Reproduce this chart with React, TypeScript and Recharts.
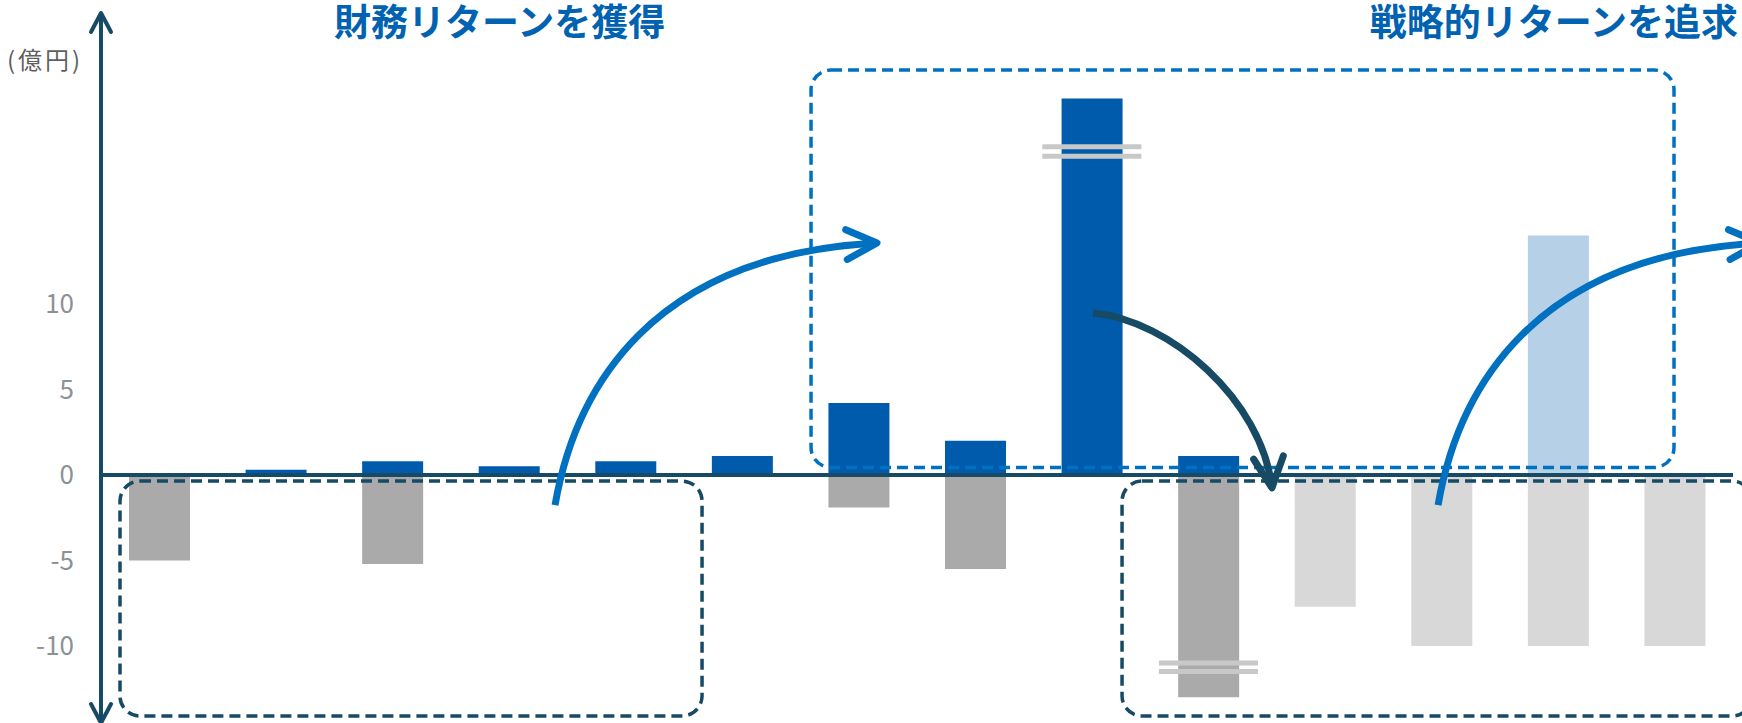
import React from "react";
import { BarChart, Bar, XAxis, YAxis, ReferenceLine, ReferenceArea, ReferenceDot } from "recharts";

// 14 slots along the x axis (no labels shown in the original)
const slots = [1, 2, 3, 4, 5, 6, 7, 8, 9, 10, 11, 12, 13, 14];
const returnsActual = [0, 0.3, 0.8, 0.5, 0.8, 1.1, 4.2, 2.0, 22, 1.1, 0, 0, 0, 0];
const investActual = [-5.0, 0, -5.2, 0, 0, 0, -1.9, -5.5, 0, -13.0, 0, 0, 0, 0];
const returnsPlan = [0, 0, 0, 0, 0, 0, 0, 0, 0, 0, 0, 0, 14, 0];
const investPlan = [0, 0, 0, 0, 0, 0, 0, 0, 0, 0, -7.7, -10, -10, -10];
const yTicks = [-10, -5, 0, 5, 10];

const data = slots.map((slot, i) => ({
  slot,
  returnsActual: returnsActual[i],
  investActual: investActual[i],
  returnsPlan: returnsPlan[i],
  investPlan: investPlan[i],
}));

const NAVY = "#174a64";
const BLUE = "#005bac";
const LINE_BLUE = "#0070c0";
const FONT = "'Noto Sans CJK JP', 'Noto Sans', sans-serif";

// annotation frames and arrows, in chart units
const frames = [
  { x1: 0.663, x2: 5.656, y1: -0.36, y2: -14.09, color: NAVY },
  { x1: 6.591, x2: 13.994, y1: 23.67, y2: 0.43, color: LINE_BLUE },
  { x1: 9.259, x2: 14.664, y1: -0.36, y2: -14.09, color: NAVY },
];
const arrows = [
  { x1: 4.395, x2: 7.157, y1: -1.76, y2: 13.56, color: LINE_BLUE, up: true },
  { x1: 9.01, x2: 10.545, y1: 9.46, y2: -0.76, color: NAVY, up: false },
  { x1: 11.97, x2: 14.73, y1: -1.76, y2: 13.56, color: LINE_BLUE, up: true },
];
// axis-break marks: slot and the two y values of the lines
const breaks = [
  { slot: 9, ys: [19.18, 18.62] },
  { slot: 10, ys: [-11.0, -11.49] },
];

function frameShape(color: string) {
  return (p: any) => (
    <rect
      x={p.x}
      y={p.y}
      width={p.width}
      height={p.height}
      rx={20}
      ry={20}
      fill="none"
      stroke={color}
      strokeWidth={3.5}
      strokeDasharray="11 6"
    />
  );
}

function arrowShape(color: string, up: boolean) {
  return (p: any) => {
    const { x, y, width: w, height: h } = p;
    const pt = (u: number, v: number) => [x + u * w, y + v * h];
    let s, c1, c2, e;
    if (up) {
      s = pt(0, 1);
      c1 = pt(0.062, 0.561);
      c2 = pt(0.295, 0.046);
      e = pt(1, 0);
    } else {
      s = pt(0, 0);
      c1 = pt(0.43, 0.04);
      c2 = pt(0.944, 0.497);
      e = pt(1, 1);
    }
    const dx = e[0] - c2[0];
    const dy = e[1] - c2[1];
    const len = Math.hypot(dx, dy);
    const bx = -dx / len;
    const by = -dy / len;
    const L = 34;
    const a = (26 * Math.PI) / 180;
    const arm = (t: number) => [
      e[0] + L * (bx * Math.cos(t) - by * Math.sin(t)),
      e[1] + L * (bx * Math.sin(t) + by * Math.cos(t)),
    ];
    const a1 = arm(a);
    const a2 = arm(-a);
    return (
      <g fill="none" stroke={color} strokeWidth={7} strokeLinecap="round" strokeLinejoin="round">
        <path d={`M${s[0]},${s[1]} C${c1[0]},${c1[1]} ${c2[0]},${c2[1]} ${e[0]},${e[1]}`} strokeLinecap="butt" />
        <polyline points={`${a1[0]},${a1[1]} ${e[0]},${e[1]} ${a2[0]},${a2[1]}`} />
      </g>
    );
  };
}

function axisHead(dir: number) {
  return (p: any) => (
    <polyline
      points={`${p.cx - 10},${p.cy + dir * 19} ${p.cx},${p.cy} ${p.cx + 10},${p.cy + dir * 19}`}
      fill="none"
      stroke={NAVY}
      strokeWidth={4}
      strokeLinecap="round"
      strokeLinejoin="round"
    />
  );
}

export default function App() {
  return (
    <div style={{ position: "absolute", left: 0, top: 0, width: 1742, height: 723, background: "#fff" }}>
      <BarChart
        width={1742}
        height={723}
        data={data}
        stackOffset="sign"
        barSize={61}
        margin={{ top: 13, right: 9, bottom: 0, left: 0 }}
      >
        <XAxis type="number" dataKey="slot" domain={[0.5, 14.5]} allowDataOverflow hide />
        <YAxis
          width={101}
          domain={[-14.5, 27]}
          allowDataOverflow
          ticks={yTicks}
          interval={0}
          tickLine={false}
          tickSize={0}
          tickMargin={27}
          axisLine={{ stroke: NAVY, strokeWidth: 4 }}
          tick={{ fill: "#8c9196", fontSize: 26, fontFamily: FONT }}
        />
        <Bar dataKey="returnsActual" stackId="s" fill={BLUE} isAnimationActive={false} />
        <Bar dataKey="investActual" stackId="s" fill="#aaaaaa" isAnimationActive={false} />
        <Bar dataKey="returnsPlan" stackId="s" fill="#b6d0e8" isAnimationActive={false} />
        <Bar dataKey="investPlan" stackId="s" fill="#d8d8d8" isAnimationActive={false} />
        {breaks.map((b) =>
          b.ys.map((yv, j) => (
            <ReferenceLine
              key={`b${b.slot}-${j}`}
              segment={[
                { x: b.slot - 0.425, y: yv },
                { x: b.slot + 0.425, y: yv },
              ]}
              stroke="#c8c8c8"
              strokeWidth={5}
              ifOverflow="visible"
              zIndex={1400}
            />
          ))
        )}
        <ReferenceLine y={0} stroke={NAVY} strokeWidth={4} ifOverflow="visible" zIndex={1500} />
        {frames.map((f, i) => (
          <ReferenceArea
            key={`f${i}`}
            x1={f.x1}
            x2={f.x2}
            y1={f.y1}
            y2={f.y2}
            ifOverflow="visible"
            shape={frameShape(f.color)}
            zIndex={1600}
          />
        ))}
        {arrows.map((a, i) => (
          <ReferenceArea
            key={`a${i}`}
            x1={a.x1}
            x2={a.x2}
            y1={a.y1}
            y2={a.y2}
            ifOverflow="visible"
            shape={arrowShape(a.color, a.up)}
            zIndex={1700}
          />
        ))}
        <ReferenceDot x={0.5} y={27} ifOverflow="visible" shape={axisHead(1)} zIndex={1800} />
        <ReferenceDot x={0.5} y={-14.5} ifOverflow="visible" shape={axisHead(-1)} zIndex={1800} />
      </BarChart>
      <div
        style={{
          position: "absolute",
          left: 7,
          top: 43,
          fontFamily: FONT,
          fontSize: 24,
          letterSpacing: 3,
          lineHeight: "32px",
          color: "#5f5f5f",
          whiteSpace: "nowrap",
        }}
      >
        (億円)
      </div>
      <div
        style={{
          position: "absolute",
          left: 334,
          top: 0,
          fontFamily: FONT,
          fontSize: 37,
          fontWeight: 700,
          lineHeight: "40px",
          color: "#0062b1",
          whiteSpace: "nowrap",
        }}
      >
        財務リターンを獲得
      </div>
      <div
        style={{
          position: "absolute",
          right: 4,
          top: 0,
          fontFamily: FONT,
          fontSize: 37,
          fontWeight: 700,
          lineHeight: "40px",
          color: "#0062b1",
          whiteSpace: "nowrap",
        }}
      >
        戦略的リターンを追求
      </div>
    </div>
  );
}
